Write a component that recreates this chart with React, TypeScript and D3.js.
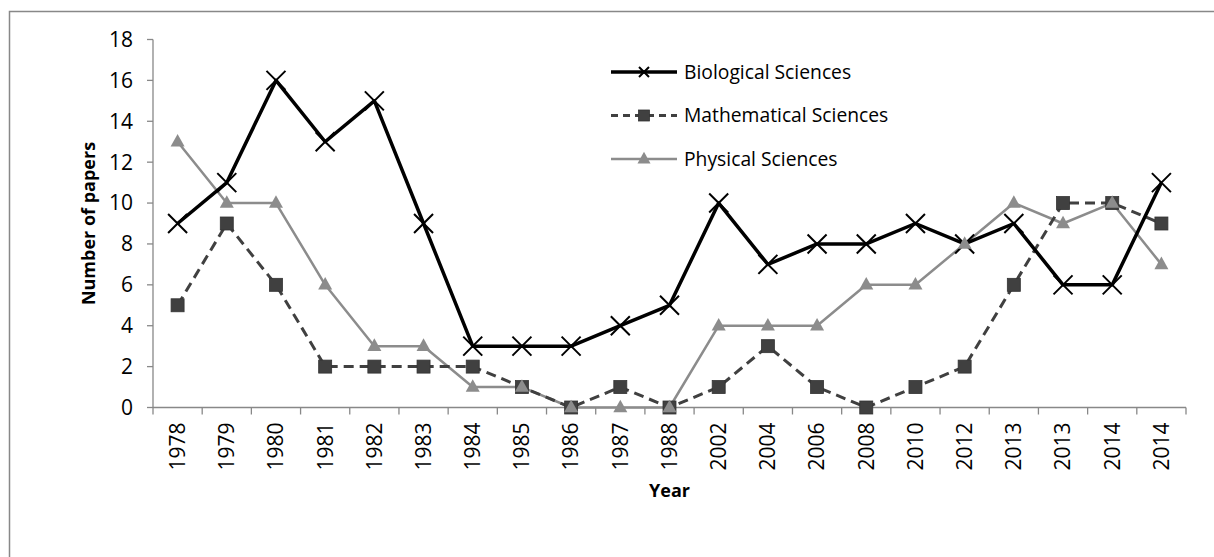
import * as d3 from 'd3'

// categories (years repeat in the source chart, so positions are by index)
const years = ['1978', '1979', '1980', '1981', '1982', '1983', '1984', '1985', '1986', '1987', '1988', '2002', '2004', '2006', '2008', '2010', '2012', '2013', '2013', '2014', '2014']
const biological = [9, 11, 16, 13, 15, 9, 3, 3, 3, 4, 5, 10, 7, 8, 8, 9, 8, 9, 6, 6, 11]
const mathematical = [5, 9, 6, 2, 2, 2, 2, 1, 0, 1, 0, 1, 3, 1, 0, 1, 2, 6, 10, 10, 9]
const physical = [13, 10, 10, 6, 3, 3, 1, 1, 0, 0, 0, 4, 4, 4, 6, 6, 8, 10, 9, 10, 7]
const yTicks = [0, 2, 4, 6, 8, 10, 12, 14, 16, 18]
const seriesNames = ['Biological Sciences', 'Mathematical Sciences', 'Physical Sciences']

const W = 1214
const H = 557
const FONT = '"Open Sans", sans-serif'

const margin = { left: 153, right: 28, top: 39.5, bottom: 149.5 }

function Marker({ kind, x, y, s }: { kind: string; x: number; y: number; s: number }) {
  if (kind === 'x') {
    const r = s / 2
    return (
      <path d={`M${x - r},${y - r}L${x + r},${y + r}M${x - r},${y + r}L${x + r},${y - r}`} stroke="#000" strokeWidth={2} fill="none" />
    )
  }
  if (kind === 'square') {
    return <rect x={x - s / 2} y={y - s / 2} width={s} height={s} fill="#404040" stroke="#333" strokeWidth={0.8} />
  }
  const h = s * 0.9
  return <path d={`M${x},${y - h * 0.62}L${x + s / 2},${y + h * 0.38}L${x - s / 2},${y + h * 0.38}Z`} fill="#8c8c8c" />
}

export default function App() {
  const x = d3
    .scaleBand<number>()
    .domain(years.map((_, i) => i))
    .range([margin.left, W - margin.right])
  const y = d3.scaleLinear().domain([0, 18]).range([H - margin.bottom, margin.top])
  const cx = (i: number) => (x(i) ?? 0) + x.bandwidth() / 2

  const line = d3
    .line<number>()
    .x((_, i) => cx(i))
    .y((d) => y(d))

  const series = [
    { name: seriesNames[0], data: biological, color: '#000', width: 3.5, dash: undefined, marker: 'x', size: 19, lsize: 10 },
    { name: seriesNames[1], data: mathematical, color: '#404040', width: 3, dash: '10 6', marker: 'square', size: 13, lsize: 11 },
    { name: seriesNames[2], data: physical, color: '#8c8c8c', width: 2.5, dash: undefined, marker: 'tri', size: 14, lsize: 13 },
  ]

  const x0 = margin.left
  const x1 = W - margin.right
  const yBase = y(0)
  const bounds = years.map((_, i) => x(i) ?? 0).concat([x1])

  const legendY = [72, 115.5, 159]

  return (
    <svg width={W} height={H} style={{ position: 'absolute', left: 0, top: 0, display: 'block', background: '#fff' }} fontFamily={FONT}>
      <rect x={9.5} y={11.5} width={W + 20} height={H + 20} fill="#fff" stroke="#888" strokeWidth={1.5} />

      {/* y axis */}
      <line x1={x0} x2={x0} y1={y(18)} y2={yBase} stroke="#888" strokeWidth={1.3} />
      {yTicks.map((t) => (
        <g key={t}>
          <line x1={x0 - 6} x2={x0} y1={y(t)} y2={y(t)} stroke="#888" strokeWidth={1.3} />
          <text x={x0 - 20} y={y(t)} dy="0.35em" textAnchor="end" fontSize={21} fill="#000">
            {t}
          </text>
        </g>
      ))}

      {/* x axis */}
      <line x1={x0} x2={x1} y1={yBase} y2={yBase} stroke="#888" strokeWidth={1.3} />
      {bounds.map((b, i) => (
        <line key={i} x1={b} x2={b} y1={yBase} y2={yBase + 7} stroke="#888" strokeWidth={1.3} />
      ))}
      {years.map((yr, i) => (
        <text key={i} transform={`translate(${cx(i)},${yBase + 15}) rotate(-90)`} textAnchor="end" dy="0.35em" fontSize={21} fill="#000">
          {yr}
        </text>
      ))}

      <text x={(x0 + x1) / 2} y={497} textAnchor="middle" fontSize={18} fontWeight="bold">
        Year
      </text>
      <text transform={`translate(89,${(y(18) + yBase) / 2}) rotate(-90)`} textAnchor="middle" dy="0.35em" fontSize={18} fontWeight="bold">
        Number of papers
      </text>

      {/* lines: physical under, biological on top */}
      {[2, 1, 0].map((k) => {
        const s = series[k]
        return (
          <path key={s.name} d={line(s.data) ?? ''} fill="none" stroke={s.color} strokeWidth={s.width} strokeDasharray={s.dash} strokeLinejoin="round" />
        )
      })}
      {series.map((s) => (
        <g key={s.name}>
          {s.data.map((v, i) => (
            <Marker key={i} kind={s.marker} x={cx(i)} y={y(v)} s={s.size} />
          ))}
        </g>
      ))}

      {/* legend */}
      {series.map((s, k) => (
        <g key={s.name}>
          <line x1={611} x2={677} y1={legendY[k]} y2={legendY[k]} stroke={s.color} strokeWidth={s.width} strokeDasharray={s.dash ? '7 5' : undefined} />
          <Marker kind={s.marker} x={644} y={legendY[k]} s={s.lsize} />
          <text x={684} y={legendY[k]} dy="0.35em" fontSize={19.3} fill="#000">
            {s.name}
          </text>
        </g>
      ))}
    </svg>
  )
}
